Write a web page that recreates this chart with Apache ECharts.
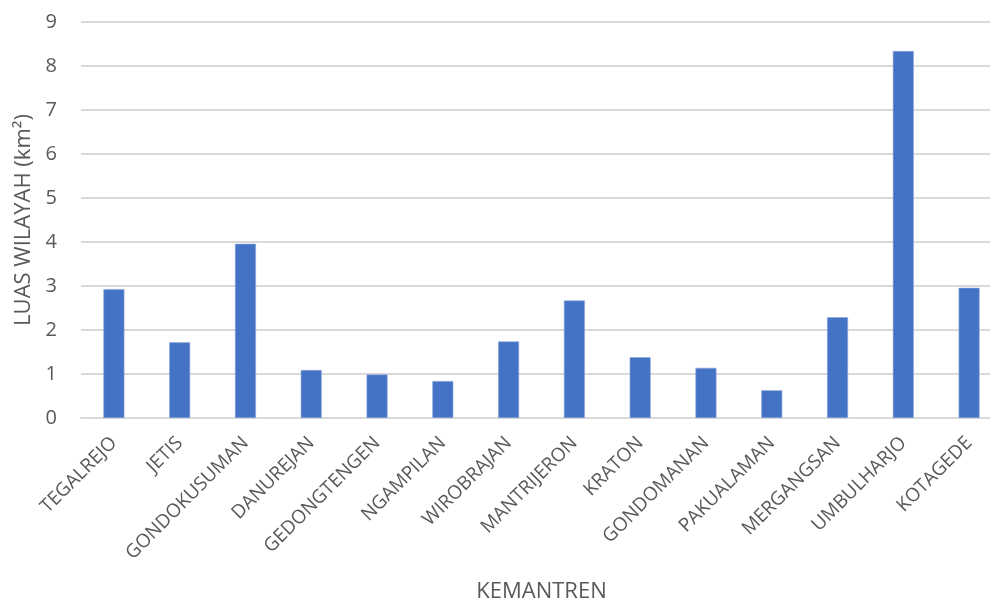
<!DOCTYPE html>
<html>
<head>
<meta charset="utf-8">
<script src="https://cdn.jsdelivr.net/npm/echarts@6/dist/echarts.min.js"></script>
<style>
  html, body { margin: 0; padding: 0; background: #ffffff; }
  #chart { width: 990px; height: 604px; }
</style>
</head>
<body>
<div id="chart"></div>
<script>
// Kemantren names (x categories)
const categories = [
  'TEGALREJO', 'JETIS', 'GONDOKUSUMAN', 'DANUREJAN', 'GEDONGTENGEN',
  'NGAMPILAN', 'WIROBRAJAN', 'MANTRIJERON', 'KRATON', 'GONDOMANAN',
  'PAKUALAMAN', 'MERGANGSAN', 'UMBULHARJO', 'KOTAGEDE'
];
// Area of each kemantren in km²
const luasWilayah = [
  2.93, 1.72, 3.96, 1.09, 0.99,
  0.84, 1.74, 2.67, 1.38, 1.14,
  0.63, 2.29, 8.34, 2.96
];
// Value axis ticks
const yTicks = [0, 1, 2, 3, 4, 5, 6, 7, 8, 9];

const FONT = '"Open Sans", sans-serif';
const TEXT = '#595959';

const chart = echarts.init(document.getElementById('chart'), null, { renderer: 'canvas' });
chart.setOption({
  backgroundColor: '#ffffff',
  animation: false,
  grid: {
    left: 81, right: -12, top: 22, bottom: 186,
    containLabel: false, outerBoundsMode: 'none'
  },
  xAxis: {
    type: 'category',
    data: categories,
    name: 'KEMANTREN',
    nameLocation: 'middle',
    nameGap: 163,
    nameTextStyle: { fontFamily: FONT, fontSize: 22, color: TEXT },
    axisLine: { show: true, lineStyle: { color: '#d9d9d9', width: 2 } },
    axisTick: { show: false },
    axisLabel: {
      interval: 0, rotate: 45, margin: 22,
      fontFamily: FONT, fontSize: 19, color: TEXT
    }
  },
  yAxis: {
    type: 'value',
    min: yTicks[0],
    max: yTicks[yTicks.length - 1],
    interval: 1,
    name: 'LUAS WILAYAH (km²)',
    nameLocation: 'middle',
    nameGap: 40,
    nameRotate: 90,
    nameTextStyle: { fontFamily: FONT, fontSize: 22, color: TEXT },
    axisLine: { show: false },
    axisTick: { show: false },
    axisLabel: { margin: 24, fontFamily: FONT, fontSize: 20, color: TEXT },
    splitLine: { show: true, lineStyle: { color: '#d9d9d9', width: 2 } }
  },
  series: [{
    type: 'bar',
    data: luasWilayah,
    barWidth: 21,
    itemStyle: { color: '#4472c4', borderColor: '#8faadc', borderWidth: 0.6 }
  }]
});
</script>
</body>
</html>
